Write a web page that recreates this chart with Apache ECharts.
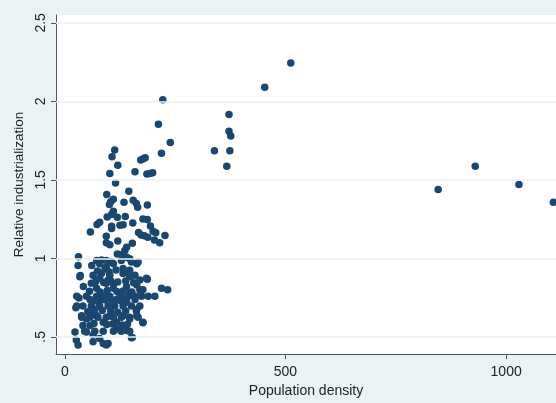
<!DOCTYPE html>
<html>
<head>
<meta charset="utf-8">
<script src="https://cdn.jsdelivr.net/npm/echarts@6/dist/echarts.min.js"></script>
<style>
  html, body { margin: 0; padding: 0; background: #eaf2f3; }
  #chart { width: 556px; height: 403px; }
</style>
</head>
<body>
<div id="chart"></div>
<script>
// axis ticks
const xTicks = [0, 500, 1000];
const yTicks = [0.5, 1, 1.5, 2, 2.5];

// [population density, relative industrialization]
const farPoints = [
  [512, 2.245], [453, 2.09], [372, 1.916], [372, 1.81], [376, 1.78],
  [339, 1.686], [374, 1.686], [367, 1.587],
  [846, 1.438], [930, 1.587], [1029, 1.47], [1107, 1.357]
];

const upperCluster = [
  [222, 2.01], [212, 1.854], [239, 1.738], [219, 1.67],
  [113, 1.69], [107, 1.647], [120, 1.593], [102, 1.54], [115, 1.48],
  [159, 1.552], [172, 1.626], [178, 1.635], [182, 1.64],
  [186, 1.537], [193, 1.54], [199, 1.545],
  [95, 1.407], [145, 1.427], [110, 1.376], [104, 1.36], [101, 1.343],
  [134, 1.357], [155, 1.37], [162, 1.35], [165, 1.326], [187, 1.34],
  [110, 1.30], [106, 1.28], [96, 1.264], [119, 1.262], [137, 1.266],
  [177, 1.25], [187, 1.248], [79, 1.23], [73, 1.216], [154, 1.225],
  [106, 1.204], [125, 1.21], [132, 1.214], [106, 1.19], [194, 1.206],
  [200, 1.173], [58, 1.167], [167, 1.165], [173, 1.148], [180, 1.144],
  [188, 1.134], [206, 1.163], [227, 1.146], [203, 1.117], [215, 1.10],
  [94, 1.14], [120, 1.11], [94, 1.10], [102, 1.086], [153, 1.096],
  [140, 1.07], [119, 1.028], [132, 1.028], [136, 1.05]
];

const lowerCluster = [
  [147, 0.997], [163, 0.966], [31, 1.01], [30, 0.955], [61, 0.955],
  [72, 0.986], [83, 0.99], [94, 0.986], [106, 0.976],
  [79, 0.966], [94, 0.945], [110, 0.966], [128, 0.986], [140, 1.007],
  [151, 0.976], [166, 0.976],
  [35, 0.89], [42, 0.82], [64, 0.893], [79, 0.873], [98, 0.862],
  [110, 0.84], [91, 0.935], [132, 0.935], [147, 0.924], [159, 0.893],
  [170, 0.862], [185, 0.873], [34, 0.883], [83, 0.904], [102, 0.893],
  [132, 0.904], [147, 0.883], [187, 0.866],
  [172, 0.79], [177, 0.80], [204, 0.759], [219, 0.81], [233, 0.80],
  [60, 0.841], [72, 0.81], [94, 0.841], [110, 0.81], [140, 0.82],
  [163, 0.83], [170, 0.80],
  [32, 0.748], [27, 0.759], [49, 0.759], [72, 0.759], [87, 0.759],
  [102, 0.759], [125, 0.759], [144, 0.759], [159, 0.759], [174, 0.759], [189, 0.759],
  [25, 0.686], [57, 0.738], [68, 0.676], [83, 0.738], [98, 0.755],
  [117, 0.738], [136, 0.748], [147, 0.78], [159, 0.738], [163, 0.676],
  [27, 0.697], [41, 0.697], [60, 0.697], [79, 0.697], [98, 0.697],
  [113, 0.697], [132, 0.697], [151, 0.697], [170, 0.697], [162, 0.665],
  [163, 0.635], [177, 0.593], [177, 0.589],
  [38, 0.635], [49, 0.614], [41, 0.572], [57, 0.572], [72, 0.635],
  [87, 0.593], [102, 0.635], [117, 0.593], [132, 0.635], [147, 0.614],
  [38, 0.624], [57, 0.624], [75, 0.624], [94, 0.624], [110, 0.624],
  [128, 0.624], [147, 0.624], [166, 0.624],
  [23, 0.53], [26, 0.48], [30, 0.448], [49, 0.53], [64, 0.51],
  [79, 0.49], [94, 0.448], [98, 0.458], [117, 0.55], [140, 0.54], [153, 0.496],
  [45, 0.535], [68, 0.535], [87, 0.535], [110, 0.535], [128, 0.535], [147, 0.535],
  [64, 0.469], [87, 0.458], [151, 0.494]
];

// the packed middle of the lower cluster
const clusterCore = [
  [52, 0.66], [66, 0.655], [85, 0.668], [104, 0.662], [120, 0.657], [138, 0.664],
  [64, 0.728], [76, 0.722], [92, 0.735], [108, 0.726], [125, 0.731], [140, 0.72],
  [56, 0.79], [80, 0.785], [96, 0.795], [118, 0.788], [132, 0.792], [152, 0.786],
  [70, 0.852], [88, 0.846], [104, 0.857], [120, 0.85], [138, 0.855], [156, 0.845],
  [74, 0.92], [100, 0.915], [116, 0.925], [142, 0.918],
  [66, 0.585], [95, 0.578], [108, 0.582], [130, 0.575], [142, 0.58]
];

const allPoints = [...farPoints, ...upperCluster, ...lowerCluster, ...clusterCore];

const font = 'Liberation Sans, Arial, sans-serif';
const inkColor = '#1a476f';
const gridLineColor = '#eaf2f3';

const chart = echarts.init(document.getElementById('chart'));
chart.setOption({
  backgroundColor: '#eaf2f3',
  animation: false,
  grid: { left: 56, top: 15, right: 0, bottom: 40, containLabel: false,
          show: true, backgroundColor: '#ffffff', borderWidth: 0 },
  xAxis: {
    type: 'value', min: -20, max: 1113,
    name: 'Population density', nameLocation: 'middle', nameGap: 27,
    nameTextStyle: { color: '#222', fontSize: 14, fontFamily: font },
    axisLine: { show: true, onZero: false, lineStyle: { color: '#555', width: 1 } },
    axisTick: { show: true, length: 5, customValues: xTicks, lineStyle: { color: '#555' } },
    axisLabel: { customValues: xTicks, color: '#222', fontSize: 14, fontFamily: font, margin: 11,
                 formatter: v => String(v) },
    splitLine: { show: false }
  },
  yAxis: {
    type: 'value', min: 0.39, max: 2.55,
    name: 'Relative industrialization', nameLocation: 'middle', nameGap: 27,
    nameTextStyle: { color: '#222', fontSize: 13.5, fontFamily: font },
    axisLine: { show: true, onZero: false, lineStyle: { color: '#555', width: 1 } },
    axisTick: { show: true, length: 5, customValues: yTicks, lineStyle: { color: '#555' } },
    axisLabel: {
      customValues: yTicks, rotate: 90, color: '#222', fontSize: 14, fontFamily: font, margin: 8,
      formatter: v => (v < 1 ? String(v).replace(/^0/, '') : String(v))
    },
    splitLine: { show: false }
  },
  series: [{
    type: 'scatter',
    data: allPoints,
    symbol: 'circle',
    symbolSize: 7.5,
    itemStyle: { color: inkColor, opacity: 1 },
    silent: true,
    markLine: {
      silent: true, symbol: 'none', label: { show: false },
      lineStyle: { color: gridLineColor, width: 1.5, type: 'solid' },
      data: yTicks.map(t => ({ yAxis: t }))
    },
    z: 3
  }]
});
</script>
</body>
</html>
